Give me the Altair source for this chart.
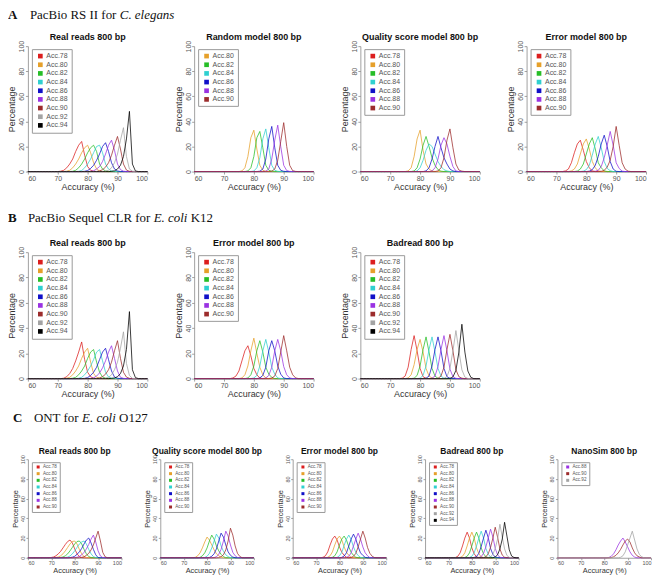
import altair as alt
import pandas as pd

# ---------------- data ----------------
ACC_LABELS = ["Acc.78", "Acc.80", "Acc.82", "Acc.84", "Acc.86",
              "Acc.88", "Acc.90", "Acc.92", "Acc.94"]
ACC_COLORS = ["#DC1E1E", "#E6A02A", "#27BE27", "#2FD0D0", "#1010C8",
              "#9A32E2", "#9C2C2C", "#A3A3A3", "#000000"]
X_TICKS = [60, 70, 80, 90, 100]
Y_TICKS = [0, 20, 40, 60, 80, 100]

# each curve: (label, first accuracy value, percentages at 1% steps)
A1_REAL = [
    ("Acc.78", 71, [0.3, 1, 3, 6, 10, 16, 21, 24, 13, 4, 1, 0.2]),
    ("Acc.80", 73, [0.3, 1, 3, 6, 10, 15, 19, 21, 15, 7, 2, 0.5]),
    ("Acc.82", 75, [0.2, 1, 3, 6, 10, 15, 19, 21, 16, 6, 2, 0.5]),
    ("Acc.84", 77, [0.2, 0.8, 3, 6, 10, 15, 20, 21, 15, 6, 2, 0.5]),
    ("Acc.86", 79, [0.2, 0.8, 2.5, 5, 9, 14, 20, 23, 16, 7, 2, 0.5]),
    ("Acc.88", 81, [0.2, 0.6, 2, 4, 8, 14, 21, 25, 17, 6, 1.5, 0.3]),
    ("Acc.90", 83, [0.1, 0.5, 1.5, 3.5, 7, 13, 21, 28, 18, 6, 1.2, 0.2]),
    ("Acc.92", 86, [0.3, 1, 3, 7, 14, 25, 35, 12, 2, 0.3]),
    ("Acc.94", 88, [0.2, 0.6, 2, 5, 12, 26, 48, 6, 0.5]),
]
A2_RANDOM = [
    ("Acc.80", 76, [0.5, 3, 12, 27, 33, 18, 5, 1, 0.2]),
    ("Acc.82", 78, [0.5, 3, 12, 27, 32, 19, 5, 1, 0.3]),
    ("Acc.84", 80, [0.4, 3, 11, 26, 34, 19, 5, 1, 0.2]),
    ("Acc.86", 82, [0.3, 2, 10, 26, 36, 19, 5, 1, 0.2]),
    ("Acc.88", 84, [0.3, 2, 10, 25, 37, 20, 5, 0.8, 0.1]),
    ("Acc.90", 86, [0.3, 2, 9, 24, 39, 20, 5, 0.7, 0.1]),
]
A3_QUALITY = [
    ("Acc.80", 76, [0.5, 3, 12, 26, 33, 17, 6, 2, 0.5]),
    ("Acc.82", 78, [0.5, 3, 10, 21, 28, 20, 11, 5, 1.5, 0.3]),
    ("Acc.84", 79, [0.5, 3, 9, 17, 22, 20, 14, 8, 4, 1.5, 0.5]),
    ("Acc.86", 82, [0.5, 3, 10, 20, 28, 19, 11, 6, 2, 0.5]),
    ("Acc.88", 84, [0.5, 3, 10, 21, 27, 22, 12, 4, 0.5]),
    ("Acc.90", 86, [0.5, 3, 11, 25, 34, 19, 6, 1.2, 0.3]),
]
A4_ERROR = [
    ("Acc.78", 73, [0.5, 2, 7, 15, 22, 25, 17, 8, 3, 0.5]),
    ("Acc.80", 75, [0.5, 2, 6, 14, 22, 26, 18, 8, 3, 0.5]),
    ("Acc.82", 77, [0.4, 2, 6, 14, 22, 27, 18, 7, 3, 0.6]),
    ("Acc.84", 79, [0.3, 1.5, 5, 13, 22, 28, 19, 8, 2.5, 0.7]),
    ("Acc.86", 81, [0.3, 1.5, 5, 12, 22, 29, 20, 8, 2, 0.2]),
    ("Acc.88", 83, [0.2, 1, 4, 11, 21, 32, 21, 7, 2.5, 0.3]),
    ("Acc.90", 85, [0.2, 1, 3.5, 9, 20, 36, 21, 7, 2, 0.3]),
]
B1_REAL = [
    ("Acc.78", 72, [0.3, 1.5, 4, 8, 14, 21, 29, 15, 5, 1.5, 0.3]),
    ("Acc.80", 73, [0.3, 1, 3, 6, 10, 16, 21, 24, 13, 4, 1, 0.3]),
    ("Acc.82", 75, [0.3, 1, 3, 6, 10, 16, 21, 23, 13, 5, 1.3, 0.3]),
    ("Acc.84", 77, [0.3, 1, 3, 6, 10, 15, 21, 23, 14, 5, 1.3, 0.3]),
    ("Acc.86", 79, [0.2, 0.8, 2.5, 5, 9, 15, 21, 24, 15, 6, 1.2, 0.3]),
    ("Acc.88", 81, [0.2, 0.6, 2, 4.5, 8.5, 14, 21, 26, 16, 6, 1, 0.2]),
    ("Acc.90", 83, [0.1, 0.5, 1.5, 3.5, 7, 13, 22, 30, 16, 5, 1.2, 0.2]),
    ("Acc.92", 86, [0.3, 1, 3, 7, 13, 24, 37, 12, 2.5, 0.2]),
    ("Acc.94", 88, [0.2, 0.5, 1.5, 4, 10, 23, 53, 7, 0.8]),
]
B2_ERROR = [
    ("Acc.78", 73, [0.5, 2, 6, 14, 22, 26, 18, 8, 3, 0.5]),
    ("Acc.80", 76, [0.5, 3, 10, 22, 32, 20, 9, 3, 0.5]),
    ("Acc.82", 78, [0.5, 3, 10, 22, 30, 21, 9, 3.5, 1]),
    ("Acc.84", 80, [0.5, 2.5, 10, 22, 31, 21, 9, 3.5, 0.5]),
    ("Acc.86", 82, [0.5, 2.5, 9, 22, 30, 22, 10, 3.5, 0.5]),
    ("Acc.88", 84, [0.5, 2.5, 9, 22, 31, 22, 9.5, 3, 0.5]),
    ("Acc.90", 86, [0.5, 2, 8, 21, 34, 22, 9, 3, 0.5]),
]
B3_BADREAD = [
    ("Acc.78", 74, [0.3, 2, 9, 23, 34, 22, 8, 1.5, 0.2]),
    ("Acc.80", 76, [0.5, 3, 11, 23, 31, 21, 8, 2, 0.5]),
    ("Acc.82", 78, [0.3, 2.5, 10, 23, 33, 21, 8, 2, 0.2]),
    ("Acc.84", 80, [0.3, 2.5, 10, 23, 33, 21, 8, 2, 0.2]),
    ("Acc.86", 82, [0.3, 2, 10, 23, 33, 22, 8, 1.5, 0.2]),
    ("Acc.88", 84, [0.3, 2, 9.5, 23, 34, 22, 7.5, 1.5, 0.2]),
    ("Acc.90", 86, [0.2, 2, 9, 23, 35, 22, 7, 1.5, 0.3]),
    ("Acc.92", 88, [0.2, 1.5, 8, 22, 38, 22, 7, 1.2, 0.1]),
    ("Acc.94", 90, [0.2, 1.3, 6.5, 21, 43, 21, 6, 1, 0]),
]
C1_REAL = [
    ("Acc.78", 70, [0.3, 0.8, 2, 4, 6.5, 10, 13.5, 16.5, 18, 15, 9, 4, 1.2, 0.2]),
    ("Acc.80", 72, [0.3, 0.8, 2, 4, 7, 10.5, 14, 16.5, 17, 14, 8.5, 4, 1.2, 0.2]),
    ("Acc.82", 74, [0.3, 0.8, 2, 4, 7, 10.5, 14, 16.5, 17, 14, 8.5, 4, 1.2, 0.2]),
    ("Acc.84", 76, [0.2, 0.7, 1.8, 4, 7, 10.5, 14, 16, 17, 14, 8.5, 4, 1.1, 0.2]),
    ("Acc.86", 78, [0.2, 0.6, 1.5, 3.5, 6, 9.5, 14, 18, 20, 15, 8.5, 3, 0.2]),
    ("Acc.88", 80, [0.2, 0.5, 1.3, 3, 5.5, 9, 13.5, 19, 23, 16, 7, 1.8, 0.2]),
    ("Acc.90", 82, [0.1, 0.4, 1, 2.5, 4.5, 8, 13, 20, 27, 17, 5.5, 1, 0]),
]
C2_QUALITY = [
    ("Acc.80", 75, [0.5, 2, 5, 10, 16, 21, 18, 13, 8, 4, 2, 0.5]),
    ("Acc.82", 77, [0.4, 2, 5, 10, 17, 23, 19, 12, 7, 3.5, 1.1]),
    ("Acc.84", 79, [0.3, 1.5, 4.5, 10, 17, 24, 20, 12, 6.5, 3, 1.2]),
    ("Acc.86", 81, [0.3, 1.5, 4, 9, 17, 25, 21, 13, 6, 2.5, 0.7]),
    ("Acc.88", 83, [0.2, 1, 3.5, 8.5, 17, 27, 22, 13, 5.5, 2, 0.3]),
    ("Acc.90", 85, [0.2, 1, 3, 8, 17, 30, 23, 12, 4.5, 1.3]),
]
C3_ERROR = [
    ("Acc.78", 73, [0.5, 2, 6, 13, 19, 22, 18, 11, 5.5, 2.5, 0.5]),
    ("Acc.80", 75, [0.5, 2, 6, 13, 19, 22, 18, 11, 5.5, 2.5, 0.5]),
    ("Acc.82", 77, [0.5, 2, 6, 13, 19, 22, 18, 11, 5.5, 2.5, 0.5]),
    ("Acc.84", 79, [0.4, 2, 5.5, 12.5, 19, 23, 18.5, 11, 5.5, 2.2, 0.4]),
    ("Acc.86", 81, [0.4, 1.8, 5, 12, 19, 24, 19, 11, 5, 2.4, 0.4]),
    ("Acc.88", 83, [0.3, 1.6, 5, 12, 19, 25, 19, 11, 5, 2, 0.1]),
    ("Acc.90", 85, [0.3, 1.5, 4.5, 11, 19, 27, 20, 10.5, 4.5, 1.5, 0.2]),
]
C4_BADREAD = [
    ("Acc.78", 73, [0.3, 1.5, 5, 12, 20, 26, 20, 10, 4, 1, 0.2]),
    ("Acc.80", 75, [0.3, 1.5, 5, 12, 20, 26, 20, 10, 4, 1, 0.2]),
    ("Acc.82", 77, [0.3, 1.5, 5, 12, 20, 26, 20, 10, 4, 1, 0.2]),
    ("Acc.84", 79, [0.3, 1.5, 5, 12, 20, 27, 20, 9.5, 3.5, 1, 0.2]),
    ("Acc.86", 81, [0.3, 1.3, 4.5, 11.5, 20, 28, 20.5, 9.5, 3.4, 0.8, 0.2]),
    ("Acc.88", 83, [0.2, 1.2, 4.5, 11, 20, 29, 21, 9.5, 3, 0.5, 0.1]),
    ("Acc.90", 85, [0.2, 1, 4, 10.5, 20, 31, 21, 9, 2.7, 0.5, 0.1]),
    ("Acc.92", 87, [0.2, 1, 3.5, 9.5, 19, 34, 21, 9, 2.3, 0.4, 0.1]),
    ("Acc.94", 89, [0.1, 0.8, 3, 9, 19, 36, 22, 8, 1.8, 0.3, 0]),
]
C5_NANOSIM = [
    ("Acc.88", 82, [0.3, 1.5, 4, 8, 13, 17, 20, 16, 11, 6, 2.5, 0.7]),
    ("Acc.90", 83, [0.2, 1, 2.5, 5, 8.5, 13, 17, 19, 16, 10, 5, 2, 0.8]),
    ("Acc.92", 87, [0.5, 2, 6, 13, 20, 27, 18, 9, 3.5, 1]),
]

LEG_ALL = ACC_LABELS
LEG_78_90 = ACC_LABELS[:7]
LEG_80_90 = ACC_LABELS[1:7]
LEG_88_92 = ACC_LABELS[5:8]

HEAD_A = ("A", "PacBio RS II for ", "C. elegans", "")
HEAD_B = ("B", "PacBio Sequel CLR for ", "E. coli", "K12")
HEAD_C = ("C", "ONT for ", "E. coli", "O127")

COLOR_OF = dict(zip(ACC_LABELS, ACC_COLORS))
SANS = "Liberation Sans"
SERIF = "Liberation Serif"
ONE = alt.Data(values=[{"k": 0}])


def curves_table(curves):
    rows = []
    for label, start, vals in curves:
        for acc in range(60, 101):
            i = acc - start
            pct = vals[i] if 0 <= i < len(vals) else 0.0
            rows.append({"series": label, "acc": acc, "pct": pct})
    return pd.DataFrame(rows)


STYLE = {
    "bigA": dict(w=120, h=126, title=9, lab=7, axt=9, tick=2.5, leg=7,
                 sym=22, rowpad=0.7, legpad=3.5, legx=4, legy=3, ty=-6),
    "bigB": dict(w=120, h=127, title=9, lab=7, axt=9, tick=2.5, leg=7,
                 sym=22, rowpad=0.7, legpad=3.5, legx=4, legy=3, ty=-6),
    "small": dict(w=94, h=99, title=8.5, lab=5.5, axt=7.4, tick=2, leg=4.6,
                  sym=9, rowpad=1.7, legpad=2.5, legx=4, legy=3, ty=-5),
}


def heading_layers(head):
    parts, xs, base_y = head
    letter, normal, italic, tail = parts
    specs = [(letter, xs[0], dict(fontWeight="bold")),
             (normal, xs[1], {}),
             (italic, xs[2], dict(fontStyle="italic"))]
    if tail:
        specs.append((tail, xs[3], {}))
    out = []
    for txt, xpos, extra in specs:
        out.append(alt.Chart(ONE).mark_text(
            font=SERIF, fontSize=13, align="left", baseline="alphabetic",
            color="#111111", **extra).encode(
            x=alt.value(xpos), y=alt.value(base_y), text=alt.value(txt)))
    return out


def panel(title, curves, legend_labels, size, head=None):
    s = STYLE[size]
    df = curves_table(curves)
    cscale = alt.Scale(domain=legend_labels,
                       range=[COLOR_OF[l] for l in legend_labels])
    common = dict(domainColor="#8a8a8a", tickColor="#8a8a8a", domainWidth=0.8,
                  tickWidth=0.8, tickSize=s["tick"], labelFont=SANS,
                  labelFontSize=s["lab"], labelColor="#555555", labelPadding=0.5,
                  titleFont=SANS, titleFontSize=s["axt"], titleFontWeight="normal",
                  titleColor="#333333", titlePadding=1, grid=False)
    x = alt.X("acc:Q", scale=alt.Scale(domain=[60, 100], nice=False, zero=False),
              axis=alt.Axis(values=X_TICKS, title="Accuracy (%)", **common))
    y = alt.Y("pct:Q", scale=alt.Scale(domain=[0, 100], nice=False),
              axis=alt.Axis(values=Y_TICKS, title="Percentage", labelAngle=-90,
                            labelAlign="center", labelBaseline="bottom", **common))
    base = alt.Chart(df)
    keys = base.transform_filter("datum.pct < 0").mark_square().encode(
        x=x, y=y,
        color=alt.Color("series:N", scale=cscale, legend=alt.Legend(
            orient="none", legendX=s["legx"], legendY=s["legy"], title=None,
            symbolType="square", symbolSize=s["sym"], symbolStrokeWidth=0,
            symbolOpacity=1, labelFont=SANS, labelFontSize=s["leg"],
            labelColor="#555555", padding=s["legpad"], symbolOffset=1.5,
            labelOffset=2.5, rowPadding=s["rowpad"], strokeColor="#9a9a9a",
            fillColor="white")),
    )
    lines = base.mark_line(strokeWidth=0.85, opacity=0.9).encode(
        x=x, y=y,
        color=alt.Color("series:N", scale=cscale, legend=None),
    )
    ttl = alt.Chart(ONE).mark_text(
        font=SANS, fontSize=s["title"], fontWeight="bold", color="#111111",
        align="center", baseline="alphabetic").encode(
        x=alt.value(s["w"] / 2), y=alt.value(s["ty"]), text=alt.value(title))
    layers = [keys, lines, ttl]
    if head is not None:
        layers += heading_layers(head)
    return alt.layer(*layers).properties(width=s["w"], height=s["h"])


def row(panels, spacing):
    return alt.hconcat(*panels, spacing=spacing, bounds="flush").resolve_scale(
        color="independent").resolve_legend(color="independent")


rowA = row([
    panel("Real reads 800 bp", A1_REAL, LEG_ALL, "bigA",
          head=(HEAD_A, [-20, 2, 92.3, 0], -27)),
    panel("Random model 800 bp", A2_RANDOM, LEG_80_90, "bigA"),
    panel("Quality score model 800 bp", A3_QUALITY, LEG_78_90, "bigA"),
    panel("Error model 800 bp", A4_ERROR, LEG_78_90, "bigA"),
], 47)
rowB = row([
    panel("Real reads 800 bp", B1_REAL, LEG_ALL, "bigB",
          head=(HEAD_B, [-20, 0, 126.4, 163.6], -30)),
    panel("Error model 800 bp", B2_ERROR, LEG_78_90, "bigB"),
    panel("Badread 800 bp", B3_BADREAD, LEG_ALL, "bigB"),
], 47)
rowC = row([
    panel("Real reads 800 bp", C1_REAL, LEG_78_90, "small",
          head=(HEAD_C, [-15, 6, 54.4, 91.6], -37)),
    panel("Quality score model 800 bp", C2_QUALITY, LEG_78_90, "small"),
    panel("Error model 800 bp", C3_ERROR, LEG_78_90, "small"),
    panel("Badread 800 bp", C4_BADREAD, LEG_ALL, "small"),
    panel("NanoSim 800 bp", C5_NANOSIM, LEG_88_92, "small"),
], 39)

topAB = alt.concat(rowA, rowB, columns=1, spacing=21, align="none").resolve_scale(
    color="independent").resolve_legend(color="independent")

chart = alt.concat(
    topAB, rowC, columns=1, spacing=14, align="none",
    padding={"left": 0, "top": 0, "right": 0, "bottom": 0},
).resolve_scale(color="independent").resolve_legend(color="independent").configure_view(
    stroke=None)

chart.save("out.html", embed_options={"renderer": "svg", "actions": False})
